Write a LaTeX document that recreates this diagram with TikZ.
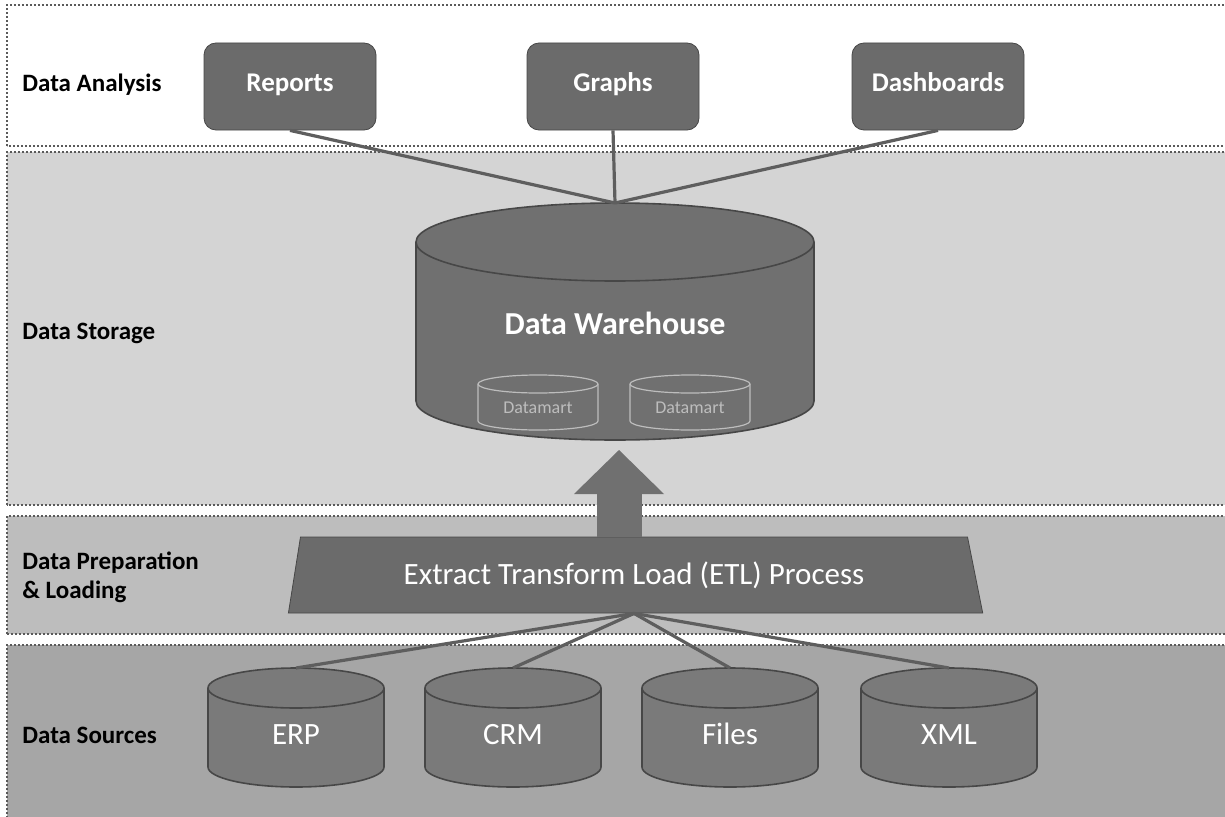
\documentclass[tikz,border=0pt]{standalone}
\usepackage{fontspec}
\setmainfont{Carlito}
\usetikzlibrary{shapes.geometric,arrows.meta,positioning}
\definecolor{boxgray}{HTML}{6B6B6B}
\definecolor{boxedge}{HTML}{474747}
\definecolor{cylgray}{HTML}{707070}
\definecolor{srcgray}{HTML}{7A7A7A}
\definecolor{linkgray}{HTML}{5E5E5E}
\definecolor{storagebg}{HTML}{D4D4D4}
\definecolor{prepbg}{HTML}{BDBDBD}
\definecolor{sourcebg}{HTML}{A6A6A6}
\definecolor{bandline}{HTML}{5A5A5A}
\definecolor{dmline}{HTML}{BDBDBD}
\begin{document}
\begin{tikzpicture}
[x=0.5pt,y=0.5pt,
  bandbox/.style={draw=bandline,line width=0.8pt,dash pattern=on 0.9pt off 1.1pt},
  bandlabel/.style={anchor=west,inner sep=0pt,align=left,text=black,
    font=\bfseries\fontsize{12.5}{14.5}\selectfont},
  topbox/.style={draw=boxedge,fill=boxgray,rounded corners=6pt,thin,
    minimum width=86pt,minimum height=43.5pt,text=white,
    text height=0.72em,text depth=0.22em,
    font=\bfseries\fontsize{13.5}{16}\selectfont},
  srclabel/.style={text=white,text height=0.65em,text depth=0.05em,
    font=\fontsize{15.5}{18}\selectfont},
  cylbody/.style={draw=boxedge,line width=0.8pt},
  martcyl/.style={draw=dmline,line width=0.6pt},
  linkline/.style={draw=linkgray,line width=1.6pt},
  blockarrow/.style={draw=cylgray,line width=22.5pt,
    -{Triangle[width=45pt,length=22pt,line width=0pt]}}]
\clip (0,0) rectangle (1225,816);
%% layers
\draw[bandbox,fill=white] (7,670) rectangle (1240,811);
\draw[bandbox,fill=storagebg] (7,311) rectangle (1240,664);
\draw[bandbox,fill=prepbg] (7,182) rectangle (1240,300);
\draw[bandbox,fill=sourcebg] (7,-14) rectangle (1240,171);
\node[bandlabel] (analysislbl) at (22,731) {Data Analysis};
\node[bandlabel] (storagelbl) at (22,483) {Data Storage};
\node[bandlabel] (preplbl) at (22,239) {Data Preparation\\\& Loading};
\node[bandlabel] (sourcelbl) at (22,81) {Data Sources};
%% data warehouse
\filldraw[cylbody,fill=cylgray] (416,574) -- (416,415)
  arc[start angle=180,end angle=360,x radius=199,y radius=39] -- (814,574)
  arc[start angle=0,end angle=180,x radius=199,y radius=39] -- cycle;
\draw[cylbody] (416,574) arc[start angle=180,end angle=360,x radius=199,y radius=39];
\node[text=white,font=\bfseries\fontsize{16}{18}\selectfont] (dw) at (615,493) {Data Warehouse};
\coordinate (dw-top) at (615,613);
\foreach \martname/\x in {martleft/538, martright/690} {
  \draw[martcyl] (\x-60,432) -- (\x-60,395)
    arc[start angle=180,end angle=360,x radius=60,y radius=9] -- (\x+60,432)
    arc[start angle=0,end angle=180,x radius=60,y radius=9] -- cycle;
  \draw[martcyl] (\x-60,432) arc[start angle=180,end angle=360,x radius=60,y radius=9];
  \node[text=dmline,font=\fontsize{9}{10}\selectfont] (\martname) at (\x,408) {Datamart};
}
%% analysis boxes
\foreach \boxname/\x/\lbl in {reports/290/Reports, graphs/613/Graphs,
  dashboards/938/Dashboards} {
  \node[topbox] (\boxname) at (\x,729.5) {\lbl};
  \draw[linkline] (\boxname.south) -- (dw-top);
}
%% etl
\node[trapezium,trapezium left angle=78,trapezium right angle=75,
  trapezium stretches,minimum width=348pt,minimum height=38pt,
  draw=boxedge,thin,fill=boxgray,text=white,
  font=\fontsize{15.5}{18}\selectfont] (etl) at (634,241)
  {Extract Transform Load (ETL) Process};
\coordinate (arrowtip) at (619,366);
\draw[blockarrow] (etl.north -| arrowtip) -- (arrowtip);
%% sources
\foreach \srcname/\x/\lbl in {erp/296/ERP, crm/513/CRM, files/730/Files, xml/949/XML} {
  \filldraw[cylbody,fill=srcgray] (\x-88,128) -- (\x-88,49)
    arc[start angle=180,end angle=360,x radius=88,y radius=20] -- (\x+88,128)
    arc[start angle=0,end angle=180,x radius=88,y radius=20] -- cycle;
  \draw[cylbody] (\x-88,128) arc[start angle=180,end angle=360,x radius=88,y radius=20];
  \node[srclabel] (\srcname) at (\x,78) {\lbl};
  \coordinate (\srcname-top) at (\x,148);
  \draw[linkline] (etl.south) -- (\srcname-top);
}
\end{tikzpicture}
\end{document}
